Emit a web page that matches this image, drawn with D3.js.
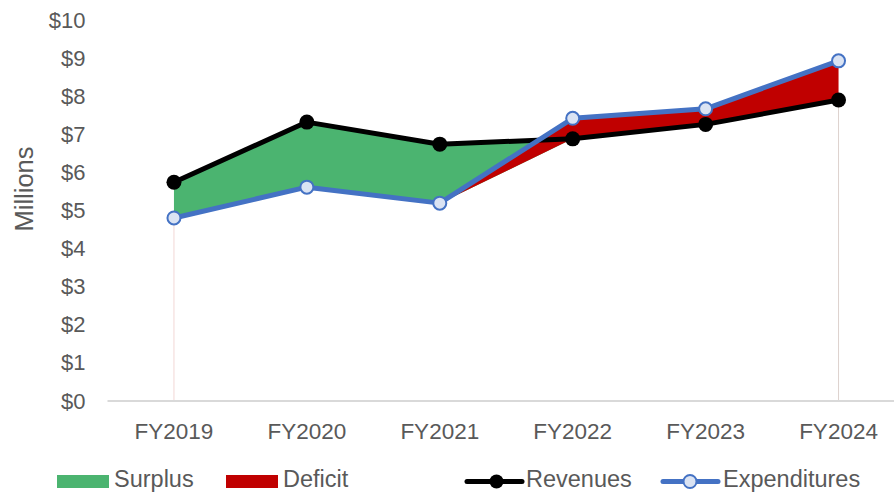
<!DOCTYPE html>
<html>
<head>
<meta charset="utf-8">
<script src="https://cdn.jsdelivr.net/npm/d3@7"></script>
<style>
  html, body { margin: 0; padding: 0; background: #fff; }
  svg text { font-family: "Liberation Sans", Arial, sans-serif; fill: #595959; }
</style>
</head>
<body>
<svg id="chart" width="894" height="492"></svg>
<script>
// Fiscal years and their totals, in millions of dollars
const years = ["FY2019", "FY2020", "FY2021", "FY2022", "FY2023", "FY2024"];
const revenues = [5.75, 7.33, 6.75, 6.89, 7.27, 7.91];
const expenditures = [4.81, 5.62, 5.20, 7.43, 7.68, 8.94];
const yTicks = [0, 1, 2, 3, 4, 5, 6, 7, 8, 9, 10];

const svg = d3.select("#chart");

const x = d3.scalePoint().domain(years).range([107.5, 905]).padding(0.5);
const y = d3.scaleLinear().domain([0, 10]).range([401, 20.5]);

// lower edge shared by both fills: the smaller of the two totals each year
const rows = years.map((yr, i) => ({
  yr, rev: revenues[i], exp: expenditures[i], low: Math.min(revenues[i], expenditures[i])
}));

const surplusArea = d3.area().x(d => x(d.yr)).y0(d => y(d.low)).y1(d => y(d.rev));
const deficitArea = d3.area().x(d => x(d.yr)).y0(d => y(d.low)).y1(d => y(d.exp));

// thin edges of the filled region at both ends
const first = rows[0], last = rows[rows.length - 1];
svg.append("line")
  .attr("x1", x(first.yr)).attr("x2", x(first.yr))
  .attr("y1", y(first.low)).attr("y2", y(0))
  .attr("stroke", "#f2d7d5").attr("stroke-width", 1);
svg.append("line")
  .attr("x1", x(last.yr)).attr("x2", x(last.yr))
  .attr("y1", y(last.low)).attr("y2", y(0))
  .attr("stroke", "#ddd2ce").attr("stroke-width", 1);

// surplus (green) under deficit (red): green shows only where revenues exceed spending
svg.append("path").datum(rows).attr("d", surplusArea).attr("fill", "#4bb470");
svg.append("path").datum(rows).attr("d", deficitArea).attr("fill", "#c00000");

// x axis baseline
svg.append("line")
  .attr("x1", 107.5).attr("x2", 894)
  .attr("y1", y(0)).attr("y2", y(0))
  .attr("stroke", "#d9d9d9").attr("stroke-width", 2);

// y tick labels
svg.append("g").selectAll("text").data(yTicks).join("text")
  .attr("x", 85.5).attr("y", d => y(d) + 7.5)
  .attr("text-anchor", "end")
  .attr("font-size", 22)
  .text(d => "$" + d);

// x tick labels
svg.append("g").selectAll("text").data(years).join("text")
  .attr("x", d => x(d)).attr("y", 438.5)
  .attr("text-anchor", "middle")
  .attr("font-size", 22.5)
  .text(d => d);

// axis title
svg.append("text")
  .attr("transform", "translate(32.5,189) rotate(-90)")
  .attr("text-anchor", "middle")
  .attr("font-size", 25.5)
  .text("Millions");

// revenue and expenditure lines
const line = key => d3.line().x(d => x(d.yr)).y(d => y(d[key]));

svg.append("path").datum(rows).attr("d", line("rev"))
  .attr("fill", "none").attr("stroke", "#000").attr("stroke-width", 5)
  .attr("stroke-linejoin", "round");
svg.append("g").selectAll("circle").data(rows).join("circle")
  .attr("cx", d => x(d.yr)).attr("cy", d => y(d.rev)).attr("r", 7.5)
  .attr("fill", "#000");

svg.append("path").datum(rows).attr("d", line("exp"))
  .attr("fill", "none").attr("stroke", "#4472c4").attr("stroke-width", 5)
  .attr("stroke-linejoin", "round");
svg.append("g").selectAll("circle").data(rows).join("circle")
  .attr("cx", d => x(d.yr)).attr("cy", d => y(d.exp)).attr("r", 6.5)
  .attr("fill", "#dae3f3").attr("stroke", "#4472c4").attr("stroke-width", 2);

// legend
const legY = 481.5;
const legText = 23.5;
const lg = svg.append("g");
lg.append("rect").attr("x", 57).attr("y", legY - 6.5).attr("width", 52).attr("height", 13).attr("fill", "#4bb470");
lg.append("text").attr("x", 114).attr("y", 486.5).attr("font-size", legText).text("Surplus");
lg.append("rect").attr("x", 226).attr("y", legY - 6.5).attr("width", 52).attr("height", 13).attr("fill", "#c00000");
lg.append("text").attr("x", 283).attr("y", 486.5).attr("font-size", legText).text("Deficit");

lg.append("line").attr("x1", 467).attr("x2", 522).attr("y1", legY).attr("y2", legY)
  .attr("stroke", "#000").attr("stroke-width", 5).attr("stroke-linecap", "round");
lg.append("circle").attr("cx", 496.5).attr("cy", legY).attr("r", 7).attr("fill", "#000");
lg.append("text").attr("x", 526).attr("y", 486.5).attr("font-size", legText).text("Revenues");

lg.append("line").attr("x1", 663).attr("x2", 718).attr("y1", legY).attr("y2", legY)
  .attr("stroke", "#4472c4").attr("stroke-width", 5).attr("stroke-linecap", "round");
lg.append("circle").attr("cx", 690).attr("cy", legY).attr("r", 6.5)
  .attr("fill", "#dae3f3").attr("stroke", "#4472c4").attr("stroke-width", 2);
lg.append("text").attr("x", 723).attr("y", 486.5).attr("font-size", legText).text("Expenditures");
</script>
</body>
</html>
